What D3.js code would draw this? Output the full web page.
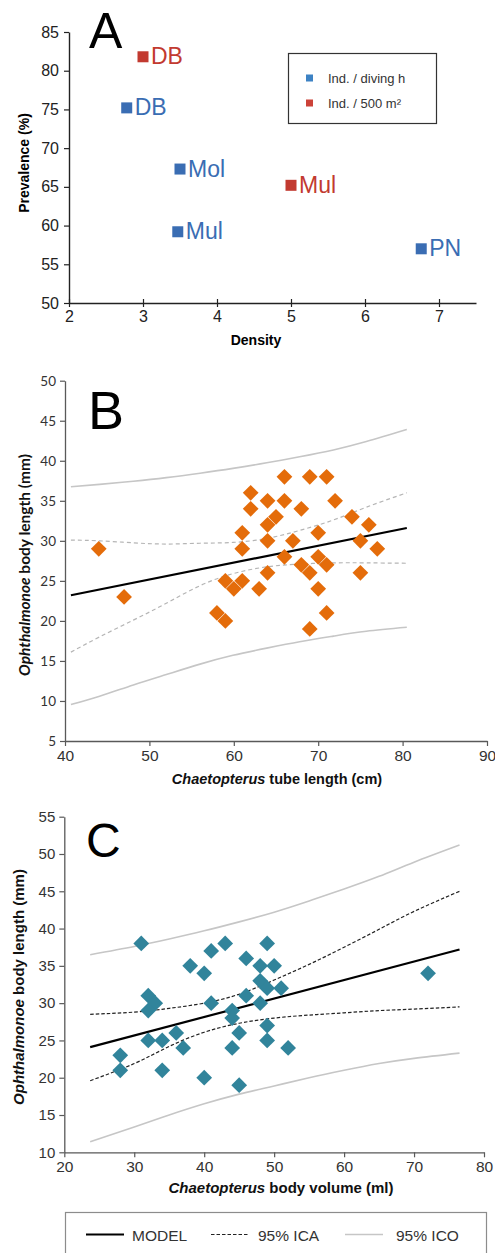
<!DOCTYPE html>
<html>
<head>
<meta charset="utf-8">
<script src="https://cdn.jsdelivr.net/npm/d3@7"></script>
<style>
  body { margin: 0; background: #fff; }
  svg { display: block; font-family: "Liberation Sans", Arial, sans-serif; }
</style>
</head>
<body>
<div id="chart"></div>
<script>
// ---- panel A : prevalence vs density
var aSeries = ["Ind. / diving h", "Ind. / 500 m²"];
var aBlueLabels = ["DB", "Mol", "Mul", "PN"];
var aBlueDensity = [2.78, 3.5, 3.47, 6.76];
var aBluePrev = [75.2, 67.3, 59.2, 57.0];
var aRedLabels = ["DB", "Mul"];
var aRedDensity = [3.0, 5.0];
var aRedPrev = [81.8, 65.2];
var aXTicks = [2, 3, 4, 5, 6, 7];
var aYTicks = [50, 55, 60, 65, 70, 75, 80, 85];

// ---- panel B : tube length
var bTube = [44, 47, 58, 59, 59, 60, 61, 61, 61, 62, 62, 63, 64, 64, 64, 64, 65, 66, 66, 66,
             67, 68, 68, 69, 69, 69, 70, 70, 70, 71, 71, 71, 72, 74, 75, 75, 76, 77];
var bBody = [29, 23, 21, 20, 25, 24, 25, 29, 31, 36, 34, 24, 35, 32, 30, 26, 33, 38, 35, 28,
             30, 34, 27, 38, 26, 19, 31, 28, 24, 38, 27, 21, 35, 33, 30, 26, 32, 29];
var bModelX = [40.7, 80.5];
var bModel = [23.2, 31.6];
var bCurveX = [40.7, 44.1, 48.1, 52.0, 56.0, 59.9, 63.9, 67.8, 71.8, 75.7, 80.5];
var bIcoUp = [36.75, 37.05, 37.45, 37.9, 38.45, 39.05, 39.75, 40.5, 41.35, 42.4, 43.9];
var bIcoLo = [9.55, 10.6, 12.0, 13.3, 14.6, 15.7, 16.6, 17.4, 18.1, 18.7, 19.2];
var bIcaUp = [30.1, 30.0, 29.75, 29.6, 29.7, 29.8, 30.3, 31.3, 32.6, 34.2, 36.0];
var bIcaLo = [16.1, 18.0, 20.1, 22.2, 24.4, 25.9, 26.75, 27.1, 27.25, 27.25, 27.2];

// ---- panel C : body volume
var cVolume = [31, 28, 28, 32, 33, 32, 32, 34, 34, 36, 37, 38, 40, 40, 41, 41, 43, 44,
               44, 44, 45, 45, 46, 46, 48, 48, 48, 49, 49, 49, 49, 50, 51, 52, 72];
var cBody = [38, 23, 21, 31, 30, 29, 25, 25, 21, 26, 24, 35, 34, 20, 37, 30, 38, 29,
             28, 24, 26, 19, 36, 31, 35, 33, 30, 38, 32, 27, 25, 35, 32, 24, 34];
var cModelX = [23.7, 76.5];
var cModel = [24.1, 37.2];
var cCurveX = [23.7, 30, 35, 40, 45, 50, 55, 60, 65, 70, 76.5];
var cIcoUp = [36.5, 37.6, 38.6, 39.7, 40.9, 42.2, 43.7, 45.3, 47.0, 48.9, 51.2];
var cIcoLo = [11.4, 13.4, 15.0, 16.5, 17.8, 18.9, 20.0, 21.0, 21.9, 22.6, 23.3];
var cIcaUp = [28.5, 28.8, 29.3, 30.0, 31.2, 33.1, 35.2, 37.5, 39.9, 42.3, 45.0];
var cIcaLo = [19.6, 21.9, 24.2, 26.1, 27.3, 28.0, 28.4, 28.7, 29.0, 29.2, 29.5];

var legendNames = ["MODEL", "95% ICA", "95% ICO"];

var W = 495, H = 1253;
var blue = "#3a6db3", red = "#c23a30", orange = "#e46c0a", teal = "#31849b";
var icoColor = "#c6c6c6";

var svg = d3.select("#chart").append("svg")
  .attr("width", W).attr("height", H);

// ================= PANEL A =================
var xA = d3.scaleLinear().domain([2, 7.5]).range([69, 476]);
var yA = d3.scaleLinear().domain([50, 85]).range([303, 32]);

var gAy = svg.append("g").attr("transform", "translate(69,0)")
  .call(d3.axisLeft(yA).tickValues(aYTicks).tickSize(5).tickSizeOuter(0));
var gAx = svg.append("g").attr("transform", "translate(0,303)")
  .call(d3.axisBottom(xA).tickValues(aXTicks).tickFormat(d3.format("d")).tickSize(4).tickSizeOuter(0));
gAx.selectAll(".tick line").attr("y1", -4);
[gAy, gAx].forEach(function(g) {
  g.select(".domain").attr("stroke", "#222").attr("stroke-width", 1.4);
  g.selectAll(".tick line").attr("stroke", "#222").attr("stroke-width", 1.2);
  g.selectAll("text").attr("font-family", "Liberation Sans").attr("font-size", 16).attr("fill", "#222");
});
gAy.selectAll("text").attr("x", -10);
gAx.selectAll("text").attr("y", 8);

svg.append("text").attr("transform", "translate(29,163) rotate(-90)")
  .attr("text-anchor", "middle").attr("font-weight", "bold").attr("font-size", 14)
  .text("Prevalence (%)");
svg.append("text").attr("x", 256).attr("y", 345)
  .attr("text-anchor", "middle").attr("font-weight", "bold").attr("font-size", 14)
  .text("Density");

function drawSquares(lbls, xs, ys, color) {
  var pts = lbls.map(function(l, i) { return {l: l, x: xs[i], y: ys[i]}; });
  var g = svg.append("g");
  g.selectAll("rect").data(pts).enter().append("rect")
    .attr("x", function(d) { return xA(d.x) - 5.5; })
    .attr("y", function(d) { return yA(d.y) - 5.5; })
    .attr("width", 11).attr("height", 11).attr("fill", color);
  g.selectAll("text").data(pts).enter().append("text")
    .attr("x", function(d) { return xA(d.x) + 8; })
    .attr("y", function(d) { return yA(d.y) + 7.5; })
    .attr("font-size", 23).attr("fill", color)
    .text(function(d) { return d.l; });
}
drawSquares(aBlueLabels, aBlueDensity, aBluePrev, blue);
drawSquares(aRedLabels, aRedDensity, aRedPrev, red);

// legend A
svg.append("rect").attr("x", 288.5).attr("y", 53.5).attr("width", 148).attr("height", 70)
  .attr("fill", "none").attr("stroke", "#333").attr("stroke-width", 1.2);
aSeries.forEach(function(s, i) {
  var yy = 78 + i * 25;
  svg.append("rect").attr("x", 306).attr("y", yy - 3.5).attr("width", 7).attr("height", 7)
    .attr("fill", i == 0 ? "#3d82c4" : "#cc4238");
  svg.append("text").attr("x", 328).attr("y", yy + 4.5).attr("font-size", 13).attr("fill", "#333")
    .text(s);
});

svg.append("text").attr("x", 89).attr("y", 48).attr("font-size", 50).text("A");

// ================= PANEL B & C helpers =================
function bandLine(x, y) {
  return d3.line().x(function(d) { return x(d[0]); }).y(function(d) { return y(d[1]); })
    .curve(d3.curveNatural);
}
function zip(a, b) { return a.map(function(v, i) { return [v, b[i]]; }); }
function diamonds(x, y, xs, ys, color) {
  svg.append("g").selectAll("path").data(zip(xs, ys)).enter().append("path")
    .attr("d", d3.symbol().type(d3.symbolSquare).size(124))
    .attr("transform", function(d) { return "translate(" + x(d[0]) + "," + y(d[1]) + ") rotate(45)"; })
    .attr("fill", color);
}
function styleAxis(g, size, family) {
  g.select(".domain").attr("stroke", "#595959").attr("stroke-width", 1.3);
  g.selectAll(".tick line").attr("stroke", "#595959").attr("stroke-width", 1.2);
  g.selectAll("text").attr("font-family", family).attr("font-size", size).attr("fill", "#333");
}

// ================= PANEL B =================
var xB = d3.scaleLinear().domain([40, 90]).range([65, 487]);
var yB = d3.scaleLinear().domain([5, 50]).range([741, 380.7]);

var gBy = svg.append("g").attr("transform", "translate(65,0)")
  .call(d3.axisLeft(yB).ticks(10).tickSize(5).tickSizeOuter(0));
styleAxis(gBy, 13.5, "Lato");
gBy.selectAll("text").attr("x", -9);
var gBx = svg.append("g").attr("transform", "translate(0,741)")
  .call(d3.axisBottom(xB).ticks(5).tickSize(5).tickSizeOuter(0));
styleAxis(gBx, 15.5, "Liberation Sans");
gBx.selectAll("text").attr("y", 9);

var lb = bandLine(xB, yB);
svg.append("path").attr("d", lb(zip(bCurveX, bIcoUp))).attr("fill", "none").attr("stroke", icoColor).attr("stroke-width", 1.6);
svg.append("path").attr("d", lb(zip(bCurveX, bIcoLo))).attr("fill", "none").attr("stroke", icoColor).attr("stroke-width", 1.6);
svg.append("path").attr("d", lb(zip(bCurveX, bIcaUp))).attr("fill", "none").attr("stroke", "#b5b5b5").attr("stroke-width", 1.2).attr("stroke-dasharray", "4,3");
svg.append("path").attr("d", lb(zip(bCurveX, bIcaLo))).attr("fill", "none").attr("stroke", "#b5b5b5").attr("stroke-width", 1.2).attr("stroke-dasharray", "4,3");
svg.append("path").attr("d", lb(zip(bModelX, bModel))).attr("fill", "none").attr("stroke", "#000").attr("stroke-width", 2.2);
diamonds(xB, yB, bTube, bBody, orange);

var tyB = svg.append("text").attr("transform", "translate(30,565) rotate(-90)")
  .attr("text-anchor", "middle").attr("font-family", "Lato").attr("font-weight", "bold")
  .attr("font-size", 15.5).attr("fill", "#111");
tyB.append("tspan").attr("font-style", "italic").text("Ophthalmonoe");
tyB.append("tspan").text(" body length (mm)");
var txB = svg.append("text").attr("x", 277).attr("y", 784)
  .attr("text-anchor", "middle").attr("font-weight", "bold").attr("font-size", 14.5).attr("fill", "#111");
txB.append("tspan").attr("font-style", "italic").text("Chaetopterus");
txB.append("tspan").text(" tube length (cm)");

svg.append("text").attr("x", 88).attr("y", 429).attr("font-size", 54).text("B");

// ================= PANEL C =================
var xC = d3.scaleLinear().domain([20, 80]).range([64.3, 484]);
var yC = d3.scaleLinear().domain([10, 55]).range([1152.3, 816.7]);

var gCy = svg.append("g").attr("transform", "translate(64.3,0)")
  .call(d3.axisLeft(yC).ticks(10).tickSize(5).tickSizeOuter(0));
styleAxis(gCy, 15, "Liberation Sans");
gCy.selectAll("text").attr("x", -9);
var gCx = svg.append("g").attr("transform", "translate(0,1152.3)")
  .call(d3.axisBottom(xC).ticks(6).tickSize(5).tickSizeOuter(0));
styleAxis(gCx, 15.5, "Liberation Sans");
gCx.selectAll("text").attr("y", 9);

var lc = bandLine(xC, yC);
svg.append("path").attr("d", lc(zip(cCurveX, cIcoUp))).attr("fill", "none").attr("stroke", icoColor).attr("stroke-width", 1.6);
svg.append("path").attr("d", lc(zip(cCurveX, cIcoLo))).attr("fill", "none").attr("stroke", icoColor).attr("stroke-width", 1.6);
svg.append("path").attr("d", lc(zip(cCurveX, cIcaUp))).attr("fill", "none").attr("stroke", "#222").attr("stroke-width", 1.2).attr("stroke-dasharray", "3.5,2");
svg.append("path").attr("d", lc(zip(cCurveX, cIcaLo))).attr("fill", "none").attr("stroke", "#222").attr("stroke-width", 1.2).attr("stroke-dasharray", "3.5,2");
svg.append("path").attr("d", lc(zip(cModelX, cModel))).attr("fill", "none").attr("stroke", "#000").attr("stroke-width", 2.2);
diamonds(xC, yC, cVolume, cBody, teal);

var tyC = svg.append("text").attr("transform", "translate(24,987) rotate(-90)")
  .attr("text-anchor", "middle").attr("font-weight", "bold")
  .attr("font-size", 15).attr("fill", "#111");
tyC.append("tspan").attr("font-style", "italic").text("Ophthalmonoe");
tyC.append("tspan").text(" body length (mm)");
var txC = svg.append("text").attr("x", 281).attr("y", 1193)
  .attr("text-anchor", "middle").attr("font-weight", "bold").attr("font-size", 15).attr("fill", "#111");
txC.append("tspan").attr("font-style", "italic").text("Chaetopterus");
txC.append("tspan").text(" body volume (ml)");

svg.append("text").attr("x", 86).attr("y", 857).attr("font-size", 48).text("C");

// ================= bottom legend =================
svg.append("rect").attr("x", 65.5).attr("y", 1212.5).attr("width", 421).attr("height", 50)
  .attr("fill", "none").attr("stroke", "#8c8c8c").attr("stroke-width", 1.2);
var legX = [86, 211, 345];
var legTextX = [132, 258, 396];
legendNames.forEach(function(n, i) {
  var ln = svg.append("line").attr("x1", legX[i]).attr("x2", legX[i] + 38)
    .attr("y1", 1234.5).attr("y2", 1234.5);
  if (i == 0) ln.attr("stroke", "#000").attr("stroke-width", 2.2);
  if (i == 1) ln.attr("stroke", "#222").attr("stroke-width", 1.2).attr("stroke-dasharray", "3.5,2");
  if (i == 2) ln.attr("stroke", icoColor).attr("stroke-width", 1.6);
  svg.append("text").attr("x", legTextX[i]).attr("y", 1240.5).attr("font-size", 15.5)
    .attr("fill", "#333").text(n);
});
</script>
</body>
</html>
